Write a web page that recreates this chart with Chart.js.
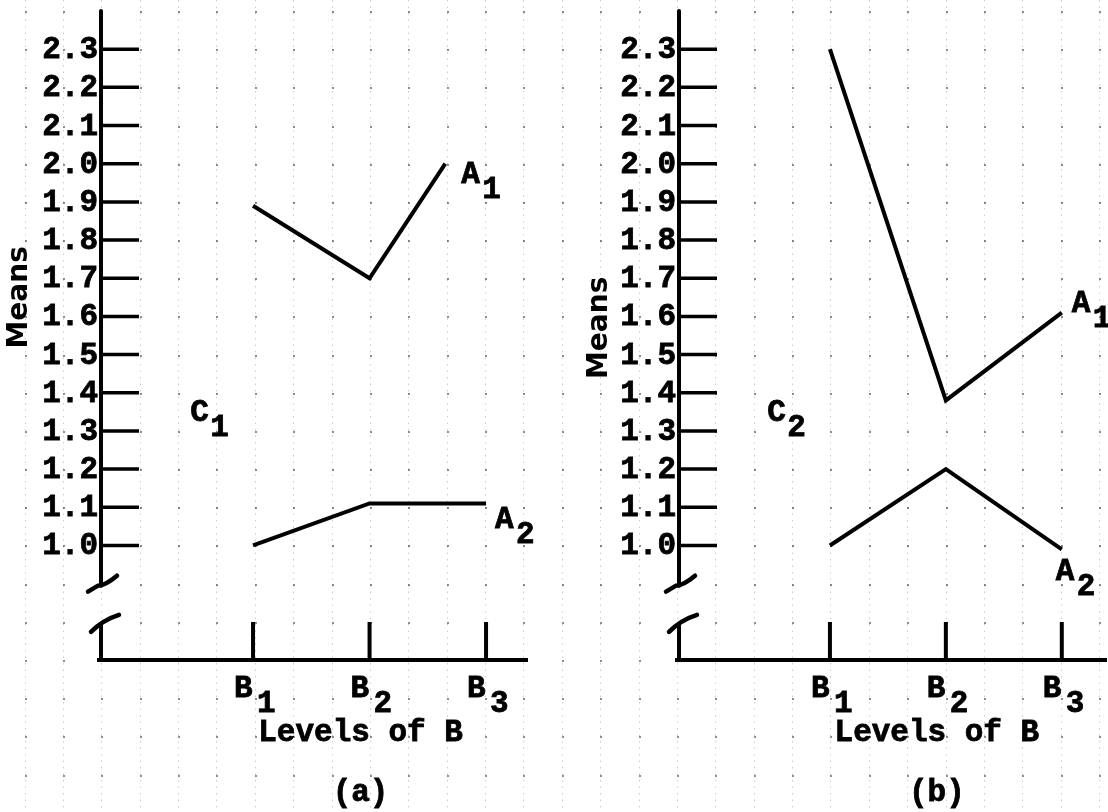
<!DOCTYPE html>
<html>
<head>
<meta charset="utf-8">
<script src="https://cdn.jsdelivr.net/npm/chart.js@4.4.1/dist/chart.umd.min.js"></script>
<style>
  html, body { margin: 0; background: #fff; }
  #wrap { position: relative; width: 1108px; height: 812px; overflow: hidden; }
  #wrap canvas { position: absolute; top: 0; }
</style>
</head>
<body>
<div id="wrap">
  <canvas id="panelA" width="554" height="812" style="left:0"></canvas>
  <canvas id="panelB" width="554" height="812" style="left:554px"></canvas>
</div>
<script>
// levels of B on the x axis, means on the y axis
const levelLabels = ['B1', 'B2', 'B3'];
const levelX = [1, 2, 3];
const yTickValues = [1.0, 1.1, 1.2, 1.3, 1.4, 1.5, 1.6, 1.7, 1.8, 1.9, 2.0, 2.1, 2.2, 2.3];
const seriesNames = ['A1', 'A2'];

// (a) C1
const c1A1X = [1, 2, 2.65];
const c1A1 = [1.89, 1.70, 2.00];
const c1A2 = [1.00, 1.11, 1.11];

// (b) C2
const c2A1 = [2.30, 1.38, 1.61];
const c2A2 = [1.00, 1.20, 0.99];

const TYPE_FONT = 'bold 31px "Liberation Mono", "DejaVu Sans Mono", monospace';

function typed(ctx, str, x, y, align) {
  ctx.save();
  ctx.font = TYPE_FONT;
  ctx.textAlign = align || 'left';
  ctx.textBaseline = 'alphabetic';
  ctx.fillText(str, x, y);
  ctx.lineWidth = 0.8;
  ctx.strokeText(str, x, y);
  ctx.restore();
}
// letter + typewriter subscript, yc = visual centre of the letter
function subbed(ctx, label, x, yc, gap) {
  typed(ctx, label[0], x, yc + 9);
  typed(ctx, label.slice(1), x + (gap || 21), yc + 24);
}

const paper = {
  id: 'paper',
  beforeDraw(chart, args, o) {
    const ctx = chart.ctx, y = chart.scales.y;
    ctx.save();
    ctx.fillStyle = '#fff';
    ctx.fillRect(0, 0, chart.width, chart.height);
    // graph paper: dotted columns, dots on the rows
    ctx.strokeStyle = 'rgba(0,0,0,0.2)';
    ctx.lineWidth = 1;
    ctx.setLineDash([1.5, 5]);
    const cols = [];
    for (let k = 0; k < 30; k++) {
      const px = 24.5 + 38.38 * k - o.offset;
      if (px < -2 || px > chart.width + 2) continue;
      cols.push(px);
      ctx.beginPath();
      ctx.moveTo(Math.round(px) + 0.5, 0);
      ctx.lineTo(Math.round(px) + 0.5, chart.height);
      ctx.stroke();
    }
    ctx.setLineDash([]);
    ctx.fillStyle = 'rgba(0,0,0,0.45)';
    for (let k = 0; k <= 21; k++) {
      const py = y.getPixelForValue(2.4 - k / 10);
      cols.forEach(px => ctx.fillRect(Math.round(px), Math.round(py), 2, 2));
    }
    ctx.restore();
  },
  afterDraw(chart, args, o) {
    const ctx = chart.ctx, x = chart.scales.x, y = chart.scales.y, ca = chart.chartArea;
    const x0 = ca.left, yb = ca.bottom;
    ctx.save();
    ctx.strokeStyle = '#000';
    ctx.fillStyle = '#000';
    ctx.lineCap = 'round';

    // y axis, broken near the bottom
    const yu = y.getPixelForValue(0.9), yl = y.getPixelForValue(0.8);
    ctx.lineWidth = 4;
    ctx.beginPath();
    ctx.moveTo(x0, ca.top);
    ctx.lineTo(x0, yu + 2);
    ctx.stroke();
    ctx.lineWidth = 4.5;
    ctx.beginPath();
    ctx.moveTo(x0 - 13, yu + 8);
    ctx.lineTo(x0 - 3, yu + 2);
    ctx.quadraticCurveTo(x0 + 4, yu + 2, x0 + 16, yu - 8);
    ctx.stroke();
    ctx.lineWidth = 4;
    ctx.beginPath();
    ctx.moveTo(x0, yb);
    ctx.lineTo(x0, yl + 4);
    ctx.stroke();
    ctx.lineWidth = 4.5;
    ctx.beginPath();
    ctx.moveTo(x0 - 10, yl + 10);
    ctx.quadraticCurveTo(x0 + 2, yl - 2, x0 + 18, yl - 7);
    ctx.stroke();

    // x axis
    ctx.lineWidth = 4;
    ctx.lineCap = 'butt';
    ctx.beginPath();
    ctx.moveTo(x0 - 4, yb);
    ctx.lineTo(ca.right, yb);
    ctx.stroke();

    // y ticks point into the plot
    yTickValues.forEach(v => {
      const py = y.getPixelForValue(v);
      ctx.lineWidth = 3.5;
      ctx.beginPath();
      ctx.moveTo(x0, py);
      ctx.lineTo(x0 + 38, py);
      ctx.stroke();
      typed(ctx, v.toFixed(1), x0 - 3, py + 9, 'right');
    });

    // x ticks and B labels
    levelX.forEach((v, i) => {
      const px = x.getPixelForValue(v);
      ctx.lineWidth = 4;
      ctx.beginPath();
      ctx.moveTo(px, yb);
      ctx.lineTo(px, yb - 38);
      ctx.stroke();
      subbed(ctx, levelLabels[i], px - 19, yb + 28, 23);
    });

    const mid = x.getPixelForValue(levelX[1]) - 9;
    typed(ctx, 'Levels of B', mid, yb + 81, 'center');
    typed(ctx, o.caption, mid, yb + 141, 'center');

    // series names at the line ends
    chart.data.datasets.forEach((ds, i) => {
      const last = chart.getDatasetMeta(i).data[ds.data.length - 1];
      const n = o.notes[i];
      subbed(ctx, ds.label, last.x + n.dx, last.y + n.dy);
    });
    subbed(ctx, o.cLabel, x.getPixelForValue(0.46), y.getPixelForValue(1.35), 20);

    // hand lettered axis title
    ctx.save();
    ctx.translate(x0 + o.meansDx, y.getPixelForValue(o.meansY));
    ctx.rotate(-Math.PI / 2);
    ctx.font = 'bold 28px "DejaVu Sans", sans-serif';
    ctx.textAlign = 'center';
    ctx.textBaseline = 'middle';
    ctx.fillText('Means', 0, 0);
    ctx.restore();

    ctx.restore();
  }
};

function lineSet(name, xs, ys) {
  return {
    label: name,
    data: xs.map((v, i) => ({ x: v, y: ys[i] })),
    borderColor: '#000',
    borderWidth: 4,
    pointRadius: 0,
    fill: false,
    tension: 0
  };
}

function panel(id, sets, o) {
  return new Chart(document.getElementById(id), {
    type: 'line',
    data: { datasets: sets },
    options: {
      responsive: false,
      animation: false,
      events: [],
      layout: { padding: o.pad },
      scales: {
        x: { type: 'linear', min: o.xmin, max: o.xmax, display: false },
        y: { min: 0.7, max: 2.4, display: false }
      },
      plugins: { legend: { display: false }, tooltip: { enabled: false }, paper: o.paper }
    },
    plugins: [paper]
  });
}

panel('panelA', [
  lineSet(seriesNames[0], c1A1X, c1A1),
  lineSet(seriesNames[1], levelX, c1A2)
], {
  pad: { left: 101, right: 26, top: 11, bottom: 152 },
  xmin: -0.305, xmax: 3.36,
  paper: {
    offset: 0, caption: '(a)', cLabel: 'C1', meansDx: -81, meansY: 1.65,
    notes: [{ dx: 16, dy: 10 }, { dx: 9, dy: 16 }]
  }
});

panel('panelB', [
  lineSet(seriesNames[0], levelX, c2A1),
  lineSet(seriesNames[1], levelX, c2A2)
], {
  pad: { left: 125, right: 1, top: 11, bottom: 152 },
  xmin: -0.302, xmax: 3.39,
  paper: {
    offset: 554, caption: '(b)', cLabel: 'C2', meansDx: -79, meansY: 1.57,
    notes: [{ dx: 10, dy: -10 }, { dx: -6, dy: 22 }]
  }
});
</script>
</body>
</html>
